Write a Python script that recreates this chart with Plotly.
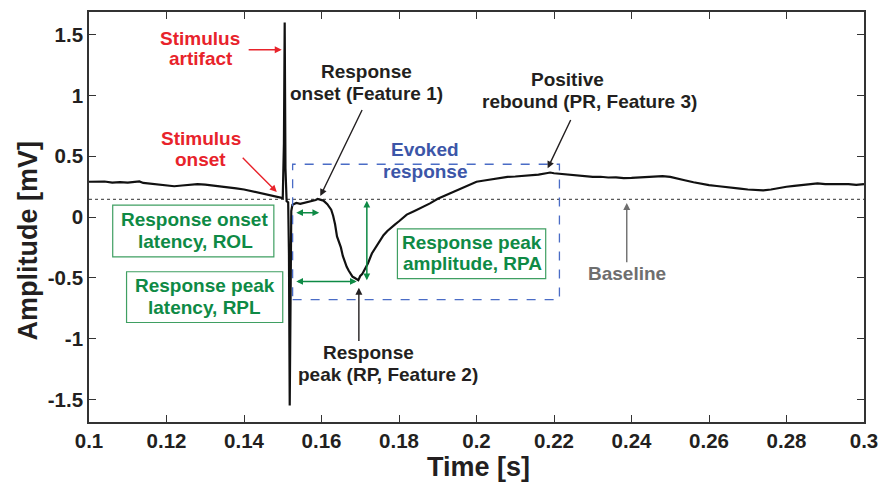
import plotly.graph_objects as go

# ---- recorded trace (time in s, amplitude in mV) ----
time_s = [
    0.100, 0.102, 0.104, 0.106, 0.108, 0.110, 0.112, 0.113, 0.114, 0.116,
    0.118, 0.120, 0.122, 0.124, 0.126, 0.128, 0.130, 0.132, 0.134, 0.136,
    0.138, 0.140, 0.142, 0.144, 0.146, 0.148, 0.1495, 0.1500,
    0.1503, 0.1505, 0.1507, 0.1510, 0.1514, 0.1516, 0.1518, 0.1520, 0.1522,
    0.1525, 0.1535, 0.1545, 0.1555, 0.1565, 0.1575, 0.1585, 0.1590, 0.1595,
    0.1605, 0.1615, 0.1625, 0.1630, 0.1635, 0.1640, 0.1645, 0.1650, 0.1655,
    0.1660, 0.1665, 0.1670, 0.1675, 0.1680, 0.1685, 0.1690, 0.1695, 0.1700,
    0.1705, 0.1710, 0.1720, 0.1730, 0.1740, 0.1750, 0.1760, 0.1770, 0.1780,
    0.1790, 0.1800, 0.1820, 0.1840, 0.1860, 0.1880, 0.1900, 0.1920, 0.1940,
    0.1960, 0.1980, 0.2000, 0.2020, 0.2040, 0.2060, 0.2080, 0.2100, 0.2120,
    0.2140, 0.2160, 0.2180, 0.2190, 0.2200, 0.2220, 0.2240, 0.2260, 0.2280,
    0.2300, 0.2320, 0.2340, 0.2360, 0.2380, 0.2400, 0.2420, 0.2440, 0.2460,
    0.2480, 0.2500, 0.2520, 0.2540, 0.2560, 0.2580, 0.2600, 0.2620, 0.2640,
    0.2660, 0.2680, 0.2700, 0.2720, 0.2740, 0.2760, 0.2780, 0.2800, 0.2820,
    0.2840, 0.2860, 0.2880, 0.2900, 0.2920, 0.2940, 0.2960, 0.2980, 0.3000,
]
amplitude_mv = [
    0.290, 0.288, 0.292, 0.283, 0.287, 0.282, 0.286, 0.293, 0.280, 0.272,
    0.266, 0.258, 0.253, 0.259, 0.264, 0.270, 0.266, 0.260, 0.252, 0.244,
    0.236, 0.226, 0.212, 0.201, 0.188, 0.172, 0.162, 0.155,
    0.600, 1.600, 0.400, 0.130, 0.120, -0.300, -1.550, -0.300, 0.050,
    0.100, 0.115, 0.108, 0.116, 0.120, 0.126, 0.140, 0.148, 0.145,
    0.135, 0.105, 0.060, 0.010, -0.060, -0.160, -0.200, -0.250, -0.320,
    -0.370, -0.410, -0.440, -0.470, -0.490, -0.500, -0.510, -0.520, -0.485,
    -0.470, -0.440, -0.380, -0.300, -0.250, -0.200, -0.150, -0.115, -0.085,
    -0.060, -0.035, 0.020, 0.050, 0.080, 0.112, 0.150, 0.178, 0.210,
    0.238, 0.262, 0.290, 0.300, 0.312, 0.318, 0.330, 0.333, 0.337,
    0.342, 0.348, 0.360, 0.366, 0.360, 0.355, 0.346, 0.340, 0.334,
    0.330, 0.331, 0.325, 0.326, 0.320, 0.321, 0.326, 0.331, 0.335,
    0.336, 0.330, 0.318, 0.300, 0.286, 0.271, 0.262, 0.255, 0.250,
    0.241, 0.234, 0.226, 0.220, 0.219, 0.226, 0.240, 0.249, 0.256,
    0.264, 0.270, 0.276, 0.270, 0.272, 0.268, 0.271, 0.265, 0.270,
]

# ---- extracted features ----
baseline_mv = 0.145
stim_onset_s = 0.1531
resp_onset_s = 0.1594
resp_onset_arrow_mv = 0.035
rp_time_s = 0.1691
rp_amp_mv = -0.52
rpl_arrow_mv = -0.53
rpa_arrow_s = 0.1717
evoked_window_s = [0.15255, 0.2214]
evoked_window_mv = [-0.68, 0.434]

# ---- tick labels ----
x_ticks = [0.10, 0.12, 0.14, 0.16, 0.18, 0.20, 0.22, 0.24, 0.26, 0.28, 0.30]
x_tick_text = ["0.1", "0.12", "0.14", "0.16", "0.18", "0.2", "0.22", "0.24", "0.26", "0.28", "0.3"]
y_ticks = [-1.5, -1.0, -0.5, 0.0, 0.5, 1.0, 1.5]
y_tick_text = ["-1.5", "-1", "-0.5", "0", "0.5", "1", "1.5"]

X_RANGE = [0.1, 0.3]
Y_RANGE = [-1.686, 1.686]

W, H = 888, 486
ML, MR, MT, MB = 89, 15, 10, 64
PX_L, PX_R, PX_T, PX_B = ML, W - MR, MT, H - MB

FONT = "Liberation Sans, Arial, Helvetica, sans-serif"
RED = "#e8232b"
BLACK = "#231f20"
GREEN = "#0e8a45"
GREEN_BOX = "#3f9f62"
BLUE = "#3c56a8"
BLUE_BOX = "#4a6cc6"
GRAY = "#6e6e6e"


def dx(px):
    """Screen x pixel -> time value (for placing labels)."""
    return X_RANGE[0] + (px - PX_L) / (PX_R - PX_L) * (X_RANGE[1] - X_RANGE[0])


def dy(py):
    """Screen y pixel -> amplitude value (for placing labels)."""
    return Y_RANGE[1] - (py - PX_T) / (PX_B - PX_T) * (Y_RANGE[1] - Y_RANGE[0])


def paper_x(px):
    return (px - PX_L) / (PX_R - PX_L)


def paper_y(py):
    return (PX_B - py) / (PX_B - PX_T)


fig = go.Figure()

# baseline (dotted)
fig.add_trace(go.Scatter(
    x=X_RANGE, y=[baseline_mv, baseline_mv], mode="lines",
    line=dict(color="#5a5a5a", width=1.3, dash="dot"),
    hoverinfo="skip", showlegend=False,
))

# recorded trace
fig.add_trace(go.Scatter(
    x=time_s, y=amplitude_mv, mode="lines",
    line=dict(color="#111111", width=2.2),
    showlegend=False,
))

shapes = []
# evoked response window
shapes.append(dict(
    type="rect", xref="x", yref="y",
    x0=evoked_window_s[0], x1=evoked_window_s[1],
    y0=evoked_window_mv[0], y1=evoked_window_mv[1],
    line=dict(color=BLUE_BOX, width=1.3, dash="dash"),
))

# green label boxes (pixel extents)
for (l, t, r, b) in [(113, 204, 276, 256), (127, 271, 285, 322), (401, 228, 551, 278)]:
    shapes.append(dict(
        type="rect", xref="x", yref="y",
        x0=dx(l), x1=dx(r), y0=dy(b), y1=dy(t),
        line=dict(color=GREEN_BOX, width=1.2), fillcolor="white", layer="above",
    ))

annotations = []


def label(text, cx, base_y, color, size=19):
    # base_y is the text baseline in screen pixels
    annotations.append(dict(
        x=dx(cx), y=dy(base_y - 0.36 * size), xref="x", yref="y",
        text=f"<b>{text}</b>", showarrow=False, xanchor="center", yanchor="middle",
        font=dict(family=FONT, size=size, color=color),
    ))


def arrow(x_tail, y_tail, x_head, y_head, color, width=1.4, side="end", size=1.0):
    annotations.append(dict(
        x=x_head, y=y_head, ax=x_tail, ay=y_tail,
        xref="x", yref="y", axref="x", ayref="y",
        text="", showarrow=True, arrowhead=2, arrowsize=size,
        arrowwidth=width, arrowcolor=color, arrowside=side,
    ))


# red: stimulus
label("Stimulus", 201, 43, RED)
label("artifact", 202, 64, RED)
arrow(dx(249), dy(48), dx(284), dy(48), RED)
label("Stimulus", 202, 144, RED)
label("onset", 202, 165, RED)
arrow(dx(243), dy(155), dx(279), dy(191), RED)

# black: features
label("Response", 370, 77, BLACK)
label("onset (Feature 1)", 370, 99, BLACK)
arrow(dx(366), dy(107), dx(323), dy(195), BLACK)

label("Positive", 573, 85, BLACK)
label("rebound (PR, Feature 3)", 595, 107, BLACK)
arrow(dx(577), dy(117), dx(553), dy(167), BLACK)

label("Response", 372, 359, BLACK)
label("peak (RP, Feature 2)", 391, 381, BLACK)
arrow(dx(362), dy(342), dx(362), dy(287), BLACK)

# blue: evoked window
label("Evoked", 429, 155, BLUE)
label("response", 429, 177, BLUE)

# gray: baseline
label("Baseline", 633, 280, GRAY)
arrow(dx(633), dy(263), dx(633), dy(202), GRAY)

# green: latency / amplitude measures
label("Response onset", 196, 225, GREEN)
label("latency, ROL", 197, 247, GREEN)
label("Response peak", 206, 292, GREEN)
label("latency, RPL", 206, 314, GREEN)
label("Response peak", 476, 248, GREEN)
label("amplitude, RPA", 477, 270, GREEN)

arrow(stim_onset_s, resp_onset_arrow_mv, resp_onset_s, resp_onset_arrow_mv,
      GREEN, width=1.5, side="end+start", size=0.9)
arrow(stim_onset_s, rpl_arrow_mv, rp_time_s, rpl_arrow_mv,
      GREEN, width=1.5, side="end+start", size=0.9)
arrow(rpa_arrow_s, baseline_mv, rpa_arrow_s, rp_amp_mv,
      GREEN, width=1.5, side="end+start", size=0.9)

# axis titles
annotations.append(dict(
    x=paper_x((PX_L + PX_R) / 2 + 2), y=paper_y(467), xref="paper", yref="paper",
    text="<b>Time [s]</b>", showarrow=False,
    xanchor="center", yanchor="middle",
    font=dict(family=FONT, size=27, color=BLACK),
))
annotations.append(dict(
    x=paper_x(27), y=paper_y(240), xref="paper", yref="paper",
    text="<b>Amplitude [mV]</b>", showarrow=False, textangle=-90,
    xanchor="center", yanchor="middle",
    font=dict(family=FONT, size=27, color=BLACK),
))

axis_common = dict(
    showgrid=False, zeroline=False, showline=True, linecolor="#333333", linewidth=1.6,
    mirror="ticks", ticks="inside", ticklen=7, tickwidth=1.3, tickcolor="#333333",
    tickfont=dict(family=FONT, size=20.5, color=BLACK),
)

fig.update_layout(
    width=W, height=H,
    margin=dict(l=ML, r=MR, t=MT, b=MB),
    paper_bgcolor="white", plot_bgcolor="white",
    xaxis=dict(range=X_RANGE, tickvals=x_ticks, ticktext=[f"<b>{t}</b>" for t in x_tick_text],
               **axis_common),
    yaxis=dict(range=Y_RANGE, tickvals=y_ticks, ticktext=[f"<b>{t}</b>" for t in y_tick_text],
               **axis_common),
    shapes=shapes,
    annotations=annotations,
    showlegend=False,
)

fig.write_html("out.html")
